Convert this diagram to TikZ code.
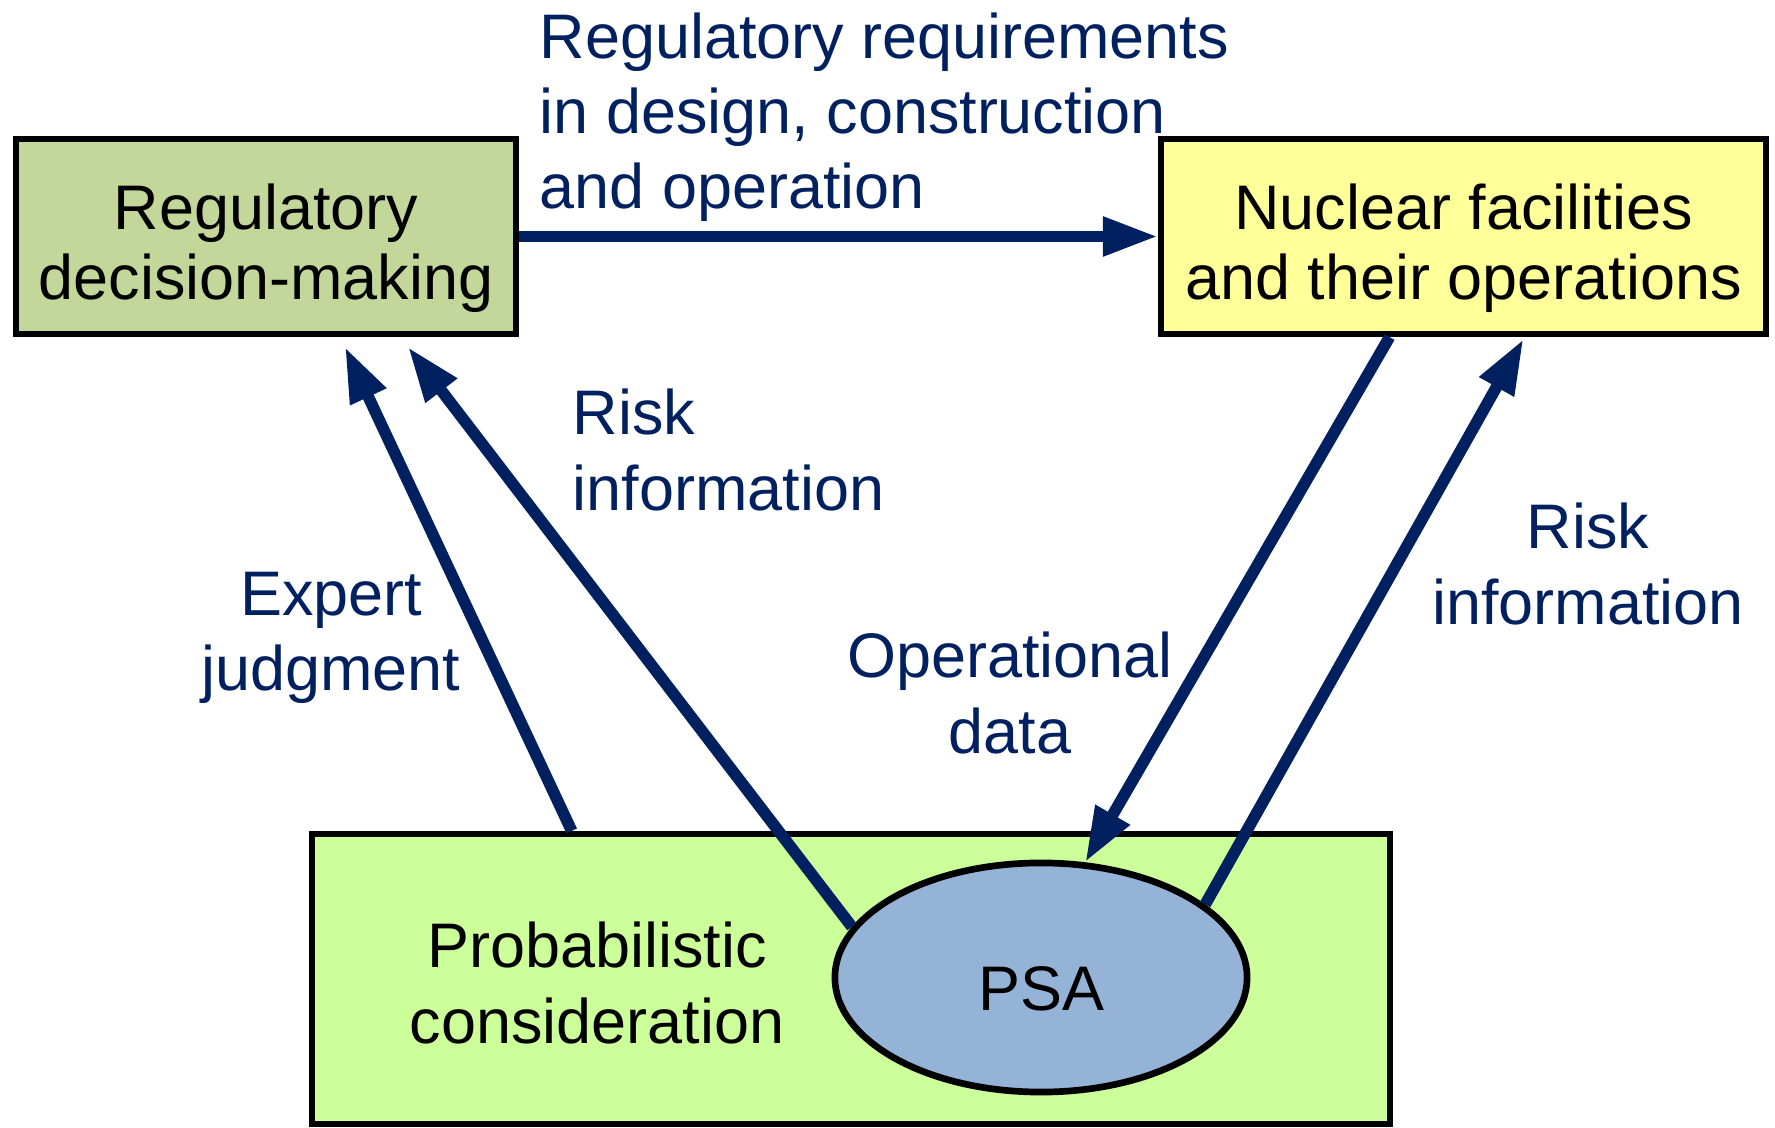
\documentclass[tikz,border=0pt]{standalone}
\usepackage{fontspec}
\setmainfont{Liberation Sans}
\usetikzlibrary{arrows.meta,shapes.geometric,calc}
\definecolor{navy}{HTML}{002060}
\definecolor{regfill}{HTML}{C4D79B}
\definecolor{nucfill}{HTML}{FFFF99}
\definecolor{probfill}{HTML}{CCFF99}
\definecolor{psafill}{HTML}{95B3D7}

\begin{document}
\begin{tikzpicture}[
    x=0.01cm, y=-0.01cm,
    % Box styles (blocks and the PSA ellipse)
    block/.style={fill=#1, draw=black, line width=1.7pt, text=black, align=center, inner sep=0pt,
        font=\fontsize{17.9}{19.9}\selectfont},
    psabox/.style={ellipse, fill=psafill, draw=black, line width=1.9pt, text=black, inner sep=0pt,
        minimum width=4.12cm, minimum height=2.29cm, font=\fontsize{17.9}{19.9}\selectfont},
    % Connector and label styles
    flow/.style={draw=navy, line width=3.3pt, -{Triangle[length=5.5mm, width=3.7mm]}},
    lbl/.style={text=navy, inner sep=0pt, font=\fontsize{17.9}{21.4}\selectfont}
]
\useasboundingbox (0,0) rectangle (1775,1128);

% ---------------------------------------------------------
% 1. BOXES (Nodes)
% ---------------------------------------------------------
\node[block=regfill, minimum width=5cm, minimum height=1.95cm] (reg) at (266, 236.5) {\rule{0pt}{1.1em}Regulatory\\decision-making};
\node[block=nucfill, minimum width=6.05cm, minimum height=1.95cm] (nuc) at (1463.5, 236.5) {\rule{0pt}{1.1em}Nuclear facilities\\and their operations};
\node[block=probfill, minimum width=10.78cm, minimum height=2.9cm] (prob) at (851, 979) {};
\node[lbl, text=black, align=center] (probtxt) at (597, 983) {Probabilistic\\consideration};
\node[psabox] (psa) at (1041, 977.5) {\raisebox{-0.52em}[0pt][0pt]{PSA}};

% ---------------------------------------------------------
% 2. ARROW ENDS
% ---------------------------------------------------------
\coordinate (expstart) at ($(prob.north west)+(263,0)$);
\coordinate (exptip) at ($(reg.south)+(79,10)$);
\coordinate (risktip) at ($(reg.south)+(142,10)$);
\coordinate (opstart) at ($(nuc.south)+(-74,0)$);
\coordinate (risktipb) at ($(nuc.south)+(60,2)$);

% ---------------------------------------------------------
% 3. CONNECTORS
% ---------------------------------------------------------
\draw[flow] (reg.east) -- (nuc.west);
\draw[flow] (expstart) -- (exptip);
\draw[flow] (psa.165) -- (risktip);
\draw[flow] (opstart) -- (psa.69);
\draw[flow] (psa.24) -- (risktipb);

% ---------------------------------------------------------
% 4. LABELS
% ---------------------------------------------------------
\node[lbl, anchor=west, align=left] (reqlbl) at (539, 117) {Regulatory requirements\\in design, construction\\and operation};
\node[lbl, anchor=west, align=left] (risklbl) at (572, 450) {Risk\\information};
\node[lbl, align=center] (explbl) at (331, 638) {Expert\\judgment};
\node[lbl, align=center] (oplbl) at (1010, 693) {Operational\\data};
\node[lbl, align=center] (risklblb) at (1588, 564) {Risk\\information};

\end{tikzpicture}
\end{document}
